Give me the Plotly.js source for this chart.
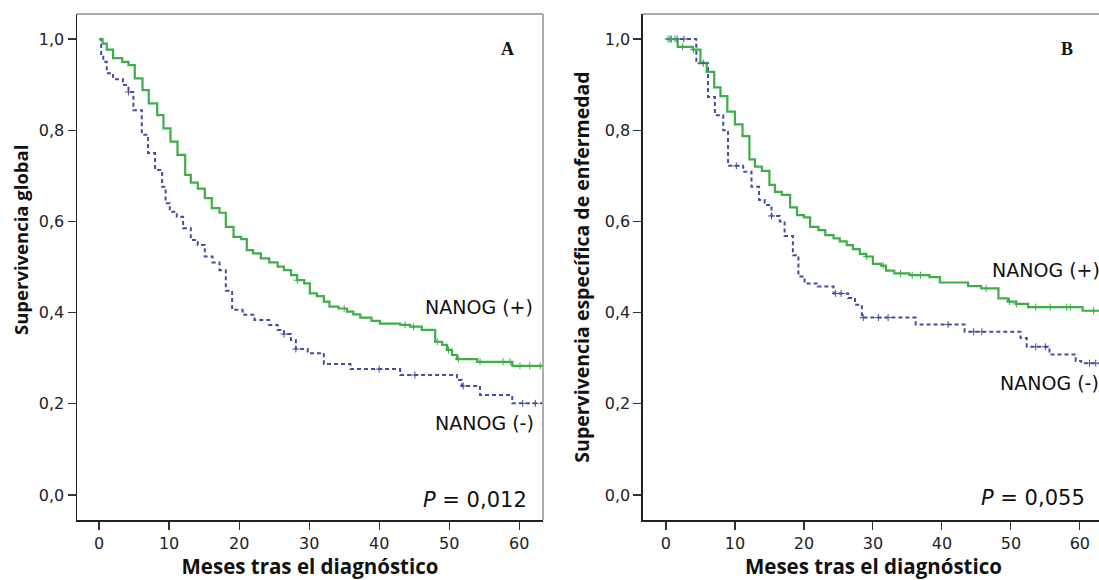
<!DOCTYPE html>
<html>
<head>
<meta charset="utf-8">
<script src="https://cdn.plot.ly/plotly-3.0.1.min.js"></script>
<style>
html,body{margin:0;padding:0;background:#fff;overflow:hidden;}
#chart{width:1110px;height:580px;}
</style>
</head>
<body>
<div id="chart"></div>
<script>
// ---- Panel A: Supervivencia global ----
const A_pos_t = [0, 0.5, 1.1, 2.0, 3.3, 4.2, 5.1, 6.2, 7.1, 8.3, 9.2, 10.2, 11.2, 12.3, 13.1, 14.1, 15.1, 16.1, 17.2, 18.1, 19.2, 20.3, 21.1, 22.0, 23.1, 24.3, 25.5, 26.4, 27.4, 28.3, 29.3, 30.1, 31.1, 32.1, 32.9, 34.2, 35.4, 36.3, 37.3, 38.9, 40.1, 43.0, 44.4, 46.1, 48.0, 49.0, 49.7, 50.4, 51.1, 54.0, 59.0, 63.5];
const A_pos_s = [1.0, 0.99, 0.977, 0.958, 0.950, 0.943, 0.914, 0.888, 0.859, 0.833, 0.804, 0.775, 0.746, 0.702, 0.685, 0.672, 0.651, 0.629, 0.619, 0.588, 0.566, 0.561, 0.537, 0.530, 0.519, 0.510, 0.501, 0.493, 0.482, 0.471, 0.464, 0.442, 0.436, 0.424, 0.413, 0.409, 0.402, 0.396, 0.389, 0.382, 0.376, 0.373, 0.369, 0.362, 0.336, 0.329, 0.318, 0.307, 0.298, 0.292, 0.283, 0.283];
const A_pos_cens = [28.3, 35.0, 43.7, 44.9, 48.3, 49.9, 51.3, 54.4, 57.7, 58.7, 60.1, 61.5, 63.0];

const A_neg_t = [0, 0.3, 0.6, 1.1, 2.0, 3.4, 4.2, 4.9, 6.1, 7.0, 8.0, 9.0, 9.5, 10.1, 11.1, 12.0, 13.1, 14.1, 15.1, 16.2, 17.2, 18.1, 19.0, 20.5, 22.2, 24.3, 25.5, 26.4, 27.4, 28.1, 29.8, 32.1, 35.9, 43.0, 51.1, 51.8, 54.4, 59.0, 63.5];
const A_neg_s = [1.0, 0.965, 0.950, 0.925, 0.912, 0.899, 0.884, 0.844, 0.790, 0.750, 0.713, 0.676, 0.640, 0.621, 0.610, 0.585, 0.559, 0.548, 0.523, 0.510, 0.493, 0.448, 0.406, 0.395, 0.384, 0.373, 0.362, 0.353, 0.340, 0.320, 0.311, 0.287, 0.276, 0.263, 0.252, 0.239, 0.219, 0.201, 0.201];
const A_neg_cens = [4.2, 26.4, 28.1, 40.0, 45.1, 52.0, 60.5, 62.3];

// ---- Panel B: Supervivencia específica de enfermedad ----
const B_pos_t = [0, 1.7, 3.9, 5.0, 5.9, 7.0, 7.9, 8.9, 10.0, 11.1, 12.1, 12.9, 13.9, 15.0, 15.8, 16.8, 18.0, 19.0, 20.0, 20.9, 22.1, 23.1, 24.3, 25.2, 26.2, 27.1, 28.1, 29.0, 30.0, 31.2, 31.9, 33.1, 35.3, 38.2, 39.7, 43.8, 45.7, 48.2, 49.6, 50.8, 52.5, 60.4, 64];
const B_pos_s = [1.0, 0.983, 0.977, 0.948, 0.928, 0.894, 0.875, 0.841, 0.813, 0.787, 0.736, 0.720, 0.711, 0.680, 0.665, 0.658, 0.631, 0.614, 0.609, 0.588, 0.581, 0.570, 0.563, 0.556, 0.548, 0.539, 0.529, 0.523, 0.507, 0.503, 0.492, 0.486, 0.482, 0.478, 0.466, 0.458, 0.453, 0.431, 0.424, 0.419, 0.412, 0.404, 0.404];
const B_pos_cens = [0.3, 0.8, 1.3, 2.4, 4.0, 29.1, 31.5, 34.0, 35.7, 36.9, 46.4, 49.8, 50.8, 53.6, 55.7, 58.1, 58.6, 62.0];

const B_neg_t = [0, 4.4, 6.1, 7.1, 8.3, 9.0, 11.2, 12.4, 13.5, 14.3, 15.3, 16.5, 17.2, 18.4, 19.2, 20.1, 22.0, 24.3, 26.4, 27.4, 28.4, 36.2, 43.3, 51.4, 52.3, 55.6, 59.4, 60.2, 64];
const B_neg_s = [1.0, 0.947, 0.873, 0.833, 0.800, 0.722, 0.709, 0.676, 0.647, 0.636, 0.612, 0.600, 0.568, 0.526, 0.479, 0.464, 0.457, 0.442, 0.432, 0.417, 0.389, 0.374, 0.358, 0.344, 0.325, 0.308, 0.294, 0.289, 0.289];
const B_neg_cens = [0.6, 1.6, 2.6, 5.4, 10.2, 15.3, 24.6, 25.4, 28.6, 30.8, 32.2, 40.9, 44.6, 45.8, 53.6, 55.0, 61.4, 62.3];

const xTicks = [0, 10, 20, 30, 40, 50, 60];
const yTicks = [0, 0.2, 0.4, 0.6, 0.8, 1.0];
const labelPos = 'NANOG (+)';
const labelNeg = 'NANOG (-)';
const pA = '0,012';
const pB = '0,055';
const xTitle = 'Meses tras el diagnóstico';
const yTitleA = 'Supervivencia global';
const yTitleB = 'Supervivencia específica de enfermedad';

const GREEN = '#3dae48';
const BLUE = '#454d9e';

function stepAt(ts, ss, t) {
  let v = ss[0];
  for (let i = 0; i < ts.length; i++) { if (ts[i] <= t) v = ss[i]; else break; }
  return v;
}
function curve(ts, ss, color, dash, xa, ya) {
  return {x: ts, y: ss, xaxis: xa, yaxis: ya, type: 'scatter', mode: 'lines',
    line: {shape: 'hv', color: color, width: dash ? 2 : 2.2, dash: dash || 'solid'},
    hoverinfo: 'skip', showlegend: false};
}
function cens(cs, ts, ss, color, xa, ya) {
  return {x: cs, y: cs.map(c => stepAt(ts, ss, c)), xaxis: xa, yaxis: ya, type: 'scatter', mode: 'markers',
    marker: {symbol: 'cross-thin-open', size: 5, color: color, line: {color: color, width: 1}},
    hoverinfo: 'skip', showlegend: false};
}

const data = [
  curve(A_neg_t, A_neg_s, BLUE, '4px,3px', 'x', 'y'),
  curve(A_pos_t, A_pos_s, GREEN, null, 'x', 'y'),
  cens(A_neg_cens, A_neg_t, A_neg_s, BLUE, 'x', 'y'),
  cens(A_pos_cens, A_pos_t, A_pos_s, GREEN, 'x', 'y'),
  curve(B_neg_t, B_neg_s, BLUE, '4px,3px', 'x2', 'y2'),
  curve(B_pos_t, B_pos_s, GREEN, null, 'x2', 'y2'),
  cens(B_neg_cens, B_neg_t, B_neg_s, BLUE, 'x2', 'y2'),
  cens(B_pos_cens, B_pos_t, B_pos_s, GREEN, 'x2', 'y2')
];

const tickFont = {family: 'DejaVu Sans, sans-serif', size: 16, color: '#222'};
function tfont(size) { return {family: 'Open Sans, sans-serif', size: size, color: '#111', weight: 700}; }

function xax(domain, range, anchor) {
  return {domain: domain, range: range, anchor: anchor, tickvals: xTicks, ticks: 'outside', ticklen: 8,
    tickcolor: '#333', tickwidth: 1.2, showgrid: false, zeroline: false, showline: true, linecolor: '#222',
    linewidth: 1.5, tickfont: tickFont, fixedrange: true,
    title: {text: xTitle, font: tfont(20.5), standoff: 7}};
}
function yax(title, anchor, size) {
  return {domain: [0, 1], range: [-0.055, 1.055], anchor: anchor, tickvals: yTicks, tickformat: '.1f',
    ticks: 'outside', ticklen: 8, tickcolor: '#333', tickwidth: 1.2, showgrid: false, zeroline: false,
    showline: true, linecolor: '#222', linewidth: 1.5, tickfont: tickFont, fixedrange: true,
    title: {text: title, font: tfont(size), standoff: 10}};
}

const textFont = {family: 'DejaVu Sans, sans-serif', size: 19, color: '#111'};
const pFont = {family: 'DejaVu Sans, sans-serif', size: 21, color: '#111'};
const letterFont = {family: 'Liberation Serif, serif', size: 18, color: '#111', weight: 700};

function ann(text, x, y, xref, yref, font, xanchor) {
  return {text: text, x: x, y: y, xref: xref, yref: yref, showarrow: false, font: font,
    xanchor: xanchor || 'left', yanchor: 'middle'};
}

const layout = {
  width: 1110, height: 580, separators: ',.',
  margin: {l: 77, r: 6, t: 14, b: 60},
  paper_bgcolor: '#fff', plot_bgcolor: '#fff',
  xaxis: xax([0, 0.4538], [-3.15, 63.4], 'y'),
  yaxis: yax('', 'x', 18.5),
  xaxis2: xax([0.5511, 1], [-3.33, 63.5], 'y2'),
  yaxis2: yax(yTitleB, 'x2', 19.5),
  shapes: [
    {type: 'line', xref: 'x domain', yref: 'y domain', x0: 0, x1: 1, y0: 1, y1: 1, line: {color: '#aaa', width: 2}},
    {type: 'line', xref: 'x domain', yref: 'y domain', x0: 1, x1: 1, y0: 0, y1: 1, line: {color: '#aaa', width: 2}},
    {type: 'line', xref: 'x2 domain', yref: 'y2 domain', x0: 0, x1: 1, y0: 1, y1: 1, line: {color: '#aaa', width: 2}},
    {type: 'line', xref: 'x2 domain', yref: 'y2 domain', x0: 1, x1: 1, y0: 0, y1: 1, line: {color: '#aaa', width: 2}}
  ],
  annotations: [
    {text: yTitleA, textangle: -90, xref: 'paper', yref: 'paper', x: -57/1027, y: (520 - 240) / 506,
     xanchor: 'center', yanchor: 'middle', showarrow: false, font: tfont(18.5)},
    ann('A', 58.3, 0.978, 'x', 'y', letterFont, 'center'),
    ann(labelPos, 46.3, 0.412, 'x', 'y', textFont),
    ann(labelNeg, 47.7, 0.158, 'x', 'y', textFont),
    ann('<i>P</i> = ' + pA, 46.0, -0.011, 'x', 'y', pFont),
    ann('B', 58.1, 0.978, 'x2', 'y2', letterFont, 'center'),
    ann(labelPos, 47.0, 0.493, 'x2', 'y2', textFont),
    ann(labelNeg, 48.1, 0.246, 'x2', 'y2', textFont),
    ann('<i>P</i> = ' + pB, 45.4, -0.007, 'x2', 'y2', pFont)
  ]
};

Plotly.newPlot('chart', data, layout, {displayModeBar: false, staticPlot: true});
</script>
</body>
</html>
